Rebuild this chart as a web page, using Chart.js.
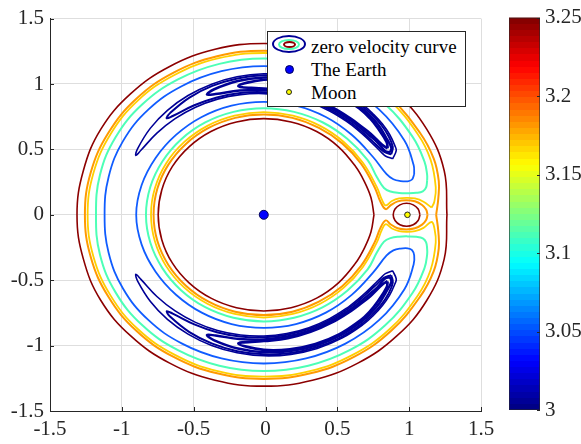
<!DOCTYPE html>
<html>
<head>
<meta charset="utf-8">
<title>Zero velocity curves</title>
<script src="https://cdn.jsdelivr.net/npm/chart.js@4.4.1/dist/chart.umd.min.js"></script>
<style>
  html, body { margin: 0; padding: 0; background: #fff; }
  #wrap { position: relative; width: 581px; height: 444px; overflow: hidden; }
  #main { position: absolute; left: 0; top: 0; }
  #cbar { position: absolute; left: 490px; top: 0; }
  .legend-box { position: absolute; left: 267px; top: 31px; width: 199px; height: 76px;
    box-sizing: border-box; border: 1px solid #262626; background: #fff; }
  .legend-text { position: absolute; font: 19px 'Liberation Serif', 'Times New Roman', serif;
    line-height: 19px; color: #000; white-space: nowrap; }
  .ell, .dot { position: absolute; box-sizing: border-box; border-radius: 50%; }
</style>
</head>
<body>
<div id="wrap">
  <canvas id="main" width="581" height="444"></canvas>
  <canvas id="cbar" width="91" height="444"></canvas>

  <div class="legend-box"></div>
  <div class="ell" style="left:272px;top:35px;width:34px;height:18px;border:2.5px solid #000096;"></div>
  <div class="ell" style="left:278px;top:39px;width:22px;height:11px;border:2px solid #4dffb6;"></div>
  <div class="ell" style="left:283px;top:41px;width:13px;height:7px;border:2px solid #8c0000;"></div>
  <span class="legend-text" style="left:311px;top:37px;">zero velocity curve</span>
  <div class="dot" style="left:285px;top:65px;width:9px;height:9px;background:#0000ff;border:1px solid #00005a;"></div>
  <span class="legend-text" style="left:311px;top:60px;">The Earth</span>
  <div class="dot" style="left:286px;top:89px;width:6px;height:6px;background:#ffff00;border:1px solid #222;"></div>
  <span class="legend-text" style="left:311px;top:83px;">Moon</span>
</div>

<script>
// ============================================================
// Zero velocity curves (Earth-Moon) — Chart.js
// ============================================================

// ---- axes / colorbar ticks
const axisTicks = [-1.5, -1, -0.5, 0, 0.5, 1, 1.5];
const axisTickLabels = ['-1.5', '-1', '-0.5', '0', '0.5', '1', '1.5'];
const cbarRange = [3, 3.25];
const cbarTicks = [3, 3.05, 3.1, 3.15, 3.2, 3.25];
const cbarTickLabels = ['3', '3.05', '3.1', '3.15', '3.2', '3.25'];

// ---- bodies
const earth = [[-0.012, 0]];
const moon = [[0.988, 0]];

// ---- contour level 3.25 (dark red)
const redOuter = [[1.263,0],[1.244,0.337],[1.122,0.655],[0.914,0.926],[0.643,1.134],[0.327,1.265],[-0.012,1.31],
  [-0.351,1.265],[-0.667,1.134],[-0.938,0.926],[-1.146,0.655],[-1.268,0.337],[-1.312,0],[-1.268,-0.337],
  [-1.146,-0.655],[-0.938,-0.926],[-0.667,-1.134],[-0.351,-1.265],[-0.012,-1.31],[0.327,-1.265],[0.643,-1.134],
  [0.914,-0.926],[1.122,-0.655],[1.244,-0.337],[1.263,0]];
const redInner = [[0.755,0],[0.734,0.132],[0.688,0.255],[0.627,0.369],[0.508,0.52],[0.356,0.637],[0.178,0.71],
  [-0.012,0.735],[-0.202,0.71],[-0.38,0.637],[-0.532,0.52],[-0.649,0.368],[-0.722,0.19],[-0.747,0],
  [-0.722,-0.19],[-0.649,-0.368],[-0.532,-0.52],[-0.38,-0.637],[-0.202,-0.71],[-0.012,-0.735],[0.178,-0.71],
  [0.356,-0.637],[0.508,-0.52],[0.627,-0.369],[0.688,-0.255],[0.734,-0.132],[0.755,0]];
const redMoon = [[1.075,0],[1.0625,0.044],[1.0285,0.076],[0.982,0.088],[0.9355,0.076],[0.9015,0.044],[0.889,0],
  [0.9015,-0.044],[0.9355,-0.076],[0.982,-0.088],[1.0285,-0.076],[1.0625,-0.044],[1.075,0]];

// ---- contour level ~3.18 (orange)
const orangeOuter = [[1.188,0],[1.203,0.128],[1.206,0.259],[1.171,0.43],[1.075,0.6275],[0.875,0.887],[0.6155,1.087],
  [0.313,1.212],[-0.012,1.255],[-0.337,1.212],[-0.6395,1.087],[-0.899,0.887],[-1.0945,0.625],[-1.2165,0.323],
  [-1.257,0],[-1.2165,-0.323],[-1.0945,-0.625],[-0.899,-0.887],[-0.6395,-1.087],[-0.337,-1.212],[-0.012,-1.255],
  [0.313,-1.212],[0.6155,-1.087],[0.875,-0.887],[1.075,-0.6275],[1.171,-0.43],[1.206,-0.259],[1.203,-0.128],[1.188,0]];
const orangeInner = [[1.128,0],[1.118,0.04],[1.09,0.075],[1.04,0.103],[0.98,0.112],[0.92,0.103],[0.87,0.072],
  [0.837,0.043],[0.8,0.0997],[0.761,0.207],[0.665,0.391],[0.534,0.546],[0.372,0.664],[0.187,0.741],[-0.012,0.767],
  [-0.211,0.741],[-0.396,0.664],[-0.554,0.542],[-0.676,0.3835],[-0.753,0.199],[-0.779,0],[-0.753,-0.199],
  [-0.676,-0.3835],[-0.554,-0.542],[-0.396,-0.664],[-0.211,-0.741],[-0.012,-0.767],[0.187,-0.741],[0.372,-0.664],
  [0.534,-0.546],[0.665,-0.391],[0.761,-0.207],[0.8,-0.0997],[0.837,-0.043],[0.87,-0.072],[0.92,-0.103],
  [0.98,-0.112],[1.04,-0.103],[1.09,-0.075],[1.118,-0.04],[1.128,0]];

// ---- contour level ~3.165 (yellow-orange)
const yellowCurve = [[1.156,0.055],[1.175,0.1],[1.185,0.211],[1.149,0.422],[1.059,0.6185],[0.863,0.875],
  [0.6065,1.071],[0.308,1.195],[-0.012,1.237],[-0.332,1.195],[-0.6305,1.071],[-0.887,0.875],[-1.079,0.616],
  [-1.198,0.318],[-1.238,0],[-1.198,-0.318],[-1.079,-0.616],[-0.887,-0.875],[-0.6305,-1.071],[-0.332,-1.195],
  [-0.012,-1.237],[0.308,-1.195],[0.6065,-1.071],[0.863,-0.875],[1.059,-0.6185],[1.149,-0.422],[1.185,-0.211],
  [1.175,-0.1],[1.156,-0.055],[1.1,-0.1],[1.04,-0.125],[0.98,-0.13],[0.93,-0.125],[0.88,-0.105],[0.837,-0.072],
  [0.81,-0.1155],[0.775,-0.211],[0.678,-0.3985],[0.545,-0.557],[0.3805,-0.68],[0.191,-0.758],[-0.012,-0.785],
  [-0.215,-0.758],[-0.4045,-0.68],[-0.567,-0.555],[-0.692,-0.3925],[-0.77,-0.203],[-0.797,0],[-0.77,0.203],
  [-0.692,0.3925],[-0.567,0.555],[-0.4045,0.68],[-0.215,0.758],[-0.012,0.785],[0.191,0.758],[0.3805,0.68],
  [0.545,0.557],[0.678,0.3985],[0.775,0.211],[0.81,0.1155],[0.837,0.072],[0.88,0.105],[0.93,0.125],[0.98,0.13],
  [1.04,0.125],[1.1,0.1],[1.156,0.055]];

// ---- contour level ~3.11 (aquamarine)
const aquaCurve = [[1.125,0.26],[1.125,0.3045],[1.1066,0.407],[1.023,0.5975],[0.833,0.845],[0.5855,1.035],
  [0.2975,1.154],[-0.012,1.195],[-0.3215,1.154],[-0.6095,1.035],[-0.857,0.845],[-1.0425,0.595],[-1.152,0.3055],
  [-1.18,0],[-1.152,-0.3055],[-1.0425,-0.595],[-0.857,-0.845],[-0.6095,-1.035],[-0.3215,-1.154],[-0.012,-1.195],
  [0.2975,-1.154],[0.5855,-1.035],[0.833,-0.845],[1.023,-0.5975],[1.1066,-0.407],[1.125,-0.3045],[1.125,-0.26],
  [1.118,-0.21],[1.095,-0.18],[1.05,-0.168],[0.99,-0.165],[0.93,-0.167],[0.87,-0.178],[0.825,-0.205],
  [0.776,-0.287],[0.711,-0.4175],[0.569,-0.581],[0.3965,-0.7075],[0.199,-0.787],[-0.012,-0.815],[-0.223,-0.787],
  [-0.4195,-0.706],[-0.588,-0.576],[-0.718,-0.4075],[-0.802,-0.212],[-0.832,0],[-0.802,0.212],[-0.718,0.4075],
  [-0.588,0.576],[-0.4195,0.706],[-0.223,0.787],[-0.012,0.815],[0.199,0.787],[0.3965,0.7075],[0.569,0.581],
  [0.711,0.4175],[0.776,0.287],[0.825,0.205],[0.87,0.178],[0.93,0.167],[0.99,0.165],[1.05,0.168],[1.095,0.18],
  [1.118,0.21],[1.125,0.26]];

// ---- contour level ~3.05 (blue)
const blueCurve = [[1.035,0.31],[1.031,0.38],[0.967,0.5685],[0.792,0.804],[0.5565,0.985],[0.2825,1.098],
  [-0.012,1.137],[-0.3065,1.098],[-0.5805,0.985],[-0.816,0.804],[-0.991,0.565],[-1.092,0.2896],[-1.12,0],
  [-1.092,-0.2896],[-0.991,-0.565],[-0.816,-0.804],[-0.5805,-0.985],[-0.3065,-1.098],[-0.012,-1.137],
  [0.2825,-1.098],[0.5565,-0.985],[0.792,-0.804],[0.967,-0.5685],[1.031,-0.38],[1.035,-0.31],[1.02,-0.27],
  [0.99,-0.256],[0.94,-0.258],[0.89,-0.272],[0.843,-0.311],[0.75,-0.44],[0.6,-0.612],[0.42,-0.748],
  [0.212,-0.835],[-0.012,-0.864],[-0.236,-0.835],[-0.444,-0.748],[-0.623,-0.611],[-0.765,-0.435],
  [-0.862,-0.228],[-0.9,0],[-0.862,0.228],[-0.765,0.435],[-0.623,0.611],[-0.444,0.748],[-0.236,0.835],
  [-0.012,0.864],[0.212,0.835],[0.42,0.748],[0.6,0.612],[0.75,0.44],[0.843,0.311],[0.89,0.272],[0.94,0.258],
  [0.99,0.256],[1.02,0.27],[1.035,0.31]];

// ---- levels just below 3.01 (dark blue tadpoles round L4 / L5)
const tad1Up = [[0.885,0.428],[0.91,0.49],[0.901,0.527],[0.864,0.614],[0.814,0.6935],[0.754,0.766],[0.687,0.8324],
  [0.532,0.943],[0.36,1.022],[0.1765,1.067],[-0.012,1.078],[-0.198,1.055],[-0.375,0.999],[-0.539,0.912],
  [-0.6825,0.799],[-0.801,0.6627],[-0.89,0.5068],[-0.903,0.454],[-0.867,0.4936],[-0.756,0.6245],[-0.629,0.735],
  [-0.487,0.8224],[-0.334,0.8844],[-0.174,0.919],[-0.012,0.9266],[0.148,0.9076],[0.302,0.8627],[0.446,0.7936],
  [0.5785,0.7034],[0.639,0.651],[0.697,0.5954],[0.753,0.536],[0.81,0.474],[0.8345,0.45],[0.885,0.428]];
const tad1Down = [[0.885,-0.428],[0.91,-0.49],[0.901,-0.527],[0.864,-0.614],[0.814,-0.6935],[0.754,-0.766],
  [0.687,-0.8324],[0.532,-0.943],[0.36,-1.022],[0.1765,-1.067],[-0.012,-1.078],[-0.198,-1.055],[-0.375,-0.999],
  [-0.539,-0.912],[-0.6825,-0.799],[-0.801,-0.6627],[-0.89,-0.5068],[-0.903,-0.454],[-0.867,-0.4936],
  [-0.756,-0.6245],[-0.629,-0.735],[-0.487,-0.8224],[-0.334,-0.8844],[-0.174,-0.919],[-0.012,-0.9266],
  [0.148,-0.9076],[0.302,-0.8627],[0.446,-0.7936],[0.5785,-0.7034],[0.639,-0.651],[0.697,-0.5954],
  [0.753,-0.536],[0.81,-0.474],[0.8345,-0.45],[0.885,-0.428]];
const tad2Up = [[0.875,0.4617],[0.886,0.5184],[0.854,0.6069],[0.806,0.6865],[0.747,0.7589],[0.68,0.8249],
  [0.528,0.9345],[0.3565,1.0129],[0.175,1.0571],[-0.012,1.0668],[-0.196,1.0426],[-0.3705,0.9853],
  [-0.5296,0.8965],[-0.6646,0.7774],[-0.6876,0.7373],[-0.6459,0.7552],[-0.4954,0.8373],[-0.3385,0.8973],
  [-0.176,0.9307],[-0.012,0.937],[0.15,0.917],[0.305,0.8715],[0.451,0.8015],[0.584,0.7105],[0.646,0.6581],
  [0.705,0.6021],[0.763,0.543],[0.824,0.4828],[0.875,0.4617]];
const tad2Down = [[0.875,-0.4617],[0.886,-0.5184],[0.854,-0.6069],[0.806,-0.6865],[0.747,-0.7589],[0.68,-0.8249],
  [0.528,-0.9345],[0.3565,-1.0129],[0.175,-1.0571],[-0.012,-1.0668],[-0.196,-1.0426],[-0.3705,-0.9853],
  [-0.5296,-0.8965],[-0.6646,-0.7774],[-0.6876,-0.7373],[-0.6459,-0.7552],[-0.4954,-0.8373],[-0.3385,-0.8973],
  [-0.176,-0.9307],[-0.012,-0.937],[0.15,-0.917],[0.305,-0.8715],[0.451,-0.8015],[0.584,-0.7105],[0.646,-0.6581],
  [0.705,-0.6021],[0.763,-0.543],[0.824,-0.4828],[0.875,-0.4617]];
const tad3Up = [[0.867,0.477],[0.876,0.5125],[0.837,0.5948],[0.793,0.6757],[0.736,0.7484],[0.671,0.8141],
  [0.521,0.9227],[0.352,0.9998],[0.172,1.0423],[-0.012,1.05],[-0.193,1.0226],[-0.3605,0.9579],[-0.4075,0.9185],
  [-0.348,0.9233],[-0.18,0.9495],[-0.012,0.953],[0.1525,0.931],[0.3095,0.8838],[0.457,0.8126],[0.593,0.7207],
  [0.656,0.668],[0.717,0.6122],[0.779,0.5545],[0.832,0.4875],[0.867,0.477]];
const tad3Down = [[0.867,-0.477],[0.876,-0.5125],[0.837,-0.5948],[0.793,-0.6757],[0.736,-0.7484],[0.671,-0.8141],
  [0.521,-0.9227],[0.352,-0.9998],[0.172,-1.0423],[-0.012,-1.05],[-0.193,-1.0226],[-0.3605,-0.9579],
  [-0.4075,-0.9185],[-0.348,-0.9233],[-0.18,-0.9495],[-0.012,-0.953],[0.1525,-0.931],[0.3095,-0.8838],
  [0.457,-0.8126],[0.593,-0.7207],[0.656,-0.668],[0.717,-0.6122],[0.779,-0.5545],[0.832,-0.4875],[0.867,-0.477]];
const tad4Up = [[0.85,0.5075],[0.8435,0.5555],[0.78,0.665],[0.7266,0.7386],[0.663,0.8045],[0.5148,0.9124],
  [0.3474,0.9879],[0.1697,1.0286],[-0.012,1.0327],[-0.189,0.984],[-0.012,0.965],[0.1547,0.9439],
  [0.3136,0.8949],[0.4628,0.8224],[0.6007,0.7298],[0.665,0.6772],[0.7294,0.6224],[0.8116,0.5348],[0.85,0.5075]];
const tad4Down = [[0.85,-0.5075],[0.8435,-0.5555],[0.78,-0.665],[0.7266,-0.7386],[0.663,-0.8045],[0.5148,-0.9124],
  [0.3474,-0.9879],[0.1697,-1.0286],[-0.012,-1.0327],[-0.189,-0.984],[-0.012,-0.965],[0.1547,-0.9439],
  [0.3136,-0.8949],[0.4628,-0.8224],[0.6007,-0.7298],[0.665,-0.6772],[0.7294,-0.6224],[0.8116,-0.5348],
  [0.85,-0.5075]];

// ============================================================
// styling
// ============================================================
const COLORS = {
    red: '#8c0000',
    orange: '#ff9a00',
    yellow: '#ffd000',
    aqua: '#4dffb6',
    blue: '#105cff',
    navy: '#000096',
    axis: '#262626',
    grid: '#dedede',
};
const tickFont = { family: 'Liberation Serif', size: 21 };

/**
 * MATLAB "jet" colormap
 */
function jet(t) {
    const c = v => Math.round(255 * Math.max(0, Math.min(1, v)));
    return `rgb(${c(Math.min(4 * t - 1.5, -4 * t + 4.5))},${c(Math.min(4 * t - 0.5, -4 * t + 3.5))},${c(Math.min(4 * t + 0.5, -4 * t + 2.5))})`;
}

/**
 * One contour line as a scatter dataset
 */
function contour(points, color, width) {
    return {
        data: points.map(([x, y]) => ({ x, y })),
        showLine: true,
        borderColor: color,
        borderWidth: width,
        pointRadius: 0,
        tension: 0.4,
        fill: false,
        order: 1,
    };
}

function body(points, fill, stroke, radius) {
    return {
        data: points.map(([x, y]) => ({ x, y })),
        showLine: false,
        pointRadius: radius,
        pointBackgroundColor: fill,
        pointBorderColor: stroke,
        pointBorderWidth: 1,
        order: 0,
    };
}

// ticks pointing into the plot, MATLAB style
const innerTicks = {
    id: 'innerTicks',
    afterDatasetsDraw(chart) {
        const { ctx, chartArea: a, scales: { x, y } } = chart;
        ctx.save();
        ctx.strokeStyle = COLORS.axis;
        ctx.lineWidth = 1;
        ctx.beginPath();
        axisTicks.forEach(v => {
            const px = Math.round(x.getPixelForValue(v)) + 0.5;
            ctx.moveTo(px, a.bottom);
            ctx.lineTo(px, a.bottom - 4);
            const py = Math.round(y.getPixelForValue(v)) + 0.5;
            ctx.moveTo(a.left, py);
            ctx.lineTo(a.left + 4, py);
        });
        ctx.stroke();
        ctx.restore();
    },
};

const axisBase = {
    type: 'linear',
    min: -1.5,
    max: 1.5,
    afterBuildTicks: s => { s.ticks = axisTicks.map(v => ({ value: v })); },
    ticks: {
        font: tickFont,
        color: COLORS.axis,
        padding: 6,
        maxRotation: 0,
        autoSkip: false,
        callback: (v, i) => axisTickLabels[i],
    },
    grid: { color: COLORS.grid, lineWidth: 1, drawTicks: false },
    border: { display: true, color: COLORS.axis, width: 1 },
};

new Chart(document.getElementById('main'), {
    type: 'scatter',
    data: {
        datasets: [
            body(earth, '#0000ff', '#00005a', 4.5),
            body(moon, '#ffff00', '#222222', 2.8),
            contour(redOuter, COLORS.red, 1.6),
            contour(redInner, COLORS.red, 1.6),
            contour(redMoon, COLORS.red, 1.6),
            contour(orangeOuter, COLORS.orange, 2),
            contour(orangeInner, COLORS.orange, 2),
            contour(yellowCurve, COLORS.yellow, 1.8),
            contour(aquaCurve, COLORS.aqua, 2),
            contour(blueCurve, COLORS.blue, 1.8),
            contour(tad1Up, COLORS.navy, 1.6),
            contour(tad1Down, COLORS.navy, 1.6),
            contour(tad2Up, COLORS.navy, 2),
            contour(tad2Down, COLORS.navy, 2),
            contour(tad3Up, COLORS.navy, 2.5),
            contour(tad3Down, COLORS.navy, 2.5),
            contour(tad4Up, COLORS.navy, 2.7),
            contour(tad4Down, COLORS.navy, 2.7),
        ],
    },
    options: {
        responsive: false,
        animation: false,
        layout: { padding: { left: 0, top: 16, right: 100, bottom: 0 } },
        plugins: { legend: { display: false }, tooltip: { enabled: false } },
        scales: {
            x: { ...axisBase, afterFit: s => { s.height = 33; } },
            y: { ...axisBase, afterFit: s => { s.width = 50; } },
        },
    },
    plugins: [innerTicks],
});

// ============================================================
// colorbar
// ============================================================
function jetGradient(context) {
    const { chart } = context;
    const a = chart.chartArea;
    if (!a) return COLORS.navy;
    const g = chart.ctx.createLinearGradient(0, a.bottom, 0, a.top);
    const n = 64;
    for (let i = 0; i < n; i++) {
        const c = jet((i + 0.5) / n);
        g.addColorStop(i / n, c);
        g.addColorStop((i + 1) / n, c);
    }
    return g;
}

const cbarTickMarks = {
    id: 'cbarTickMarks',
    afterDatasetsDraw(chart) {
        const { ctx, chartArea: a, scales: { y } } = chart;
        ctx.save();
        ctx.strokeStyle = COLORS.axis;
        ctx.lineWidth = 1;
        ctx.beginPath();
        cbarTicks.forEach(v => {
            const py = Math.round(y.getPixelForValue(v)) + 0.5;
            ctx.moveTo(a.right, py);
            ctx.lineTo(a.right - 3, py);
        });
        ctx.stroke();
        ctx.strokeStyle = 'rgba(38,38,38,0.6)';
        ctx.strokeRect(a.left + 0.5, a.top + 0.5, a.right - a.left - 1, a.bottom - a.top - 1);
        ctx.restore();
    },
};

new Chart(document.getElementById('cbar'), {
    type: 'bar',
    data: {
        labels: [''],
        datasets: [{
            data: [cbarRange],
            backgroundColor: jetGradient,
            borderWidth: 0,
            barPercentage: 1,
            categoryPercentage: 1,
        }],
    },
    options: {
        responsive: false,
        animation: false,
        layout: { padding: { left: 19, top: 15, right: 0, bottom: 34 } },
        plugins: { legend: { display: false }, tooltip: { enabled: false } },
        scales: {
            x: { display: false },
            y: {
                position: 'right',
                min: cbarRange[0],
                max: cbarRange[1],
                afterBuildTicks: s => { s.ticks = cbarTicks.map(v => ({ value: v })); },
                afterFit: s => { s.width = 41; },
                ticks: {
                    font: tickFont,
                    color: COLORS.axis,
                    padding: 5,
                    callback: (v, i) => cbarTickLabels[i],
                },
                grid: { display: false, drawTicks: false },
                border: { display: false },
            },
        },
    },
    plugins: [cbarTickMarks],
});
</script>
</body>
</html>
